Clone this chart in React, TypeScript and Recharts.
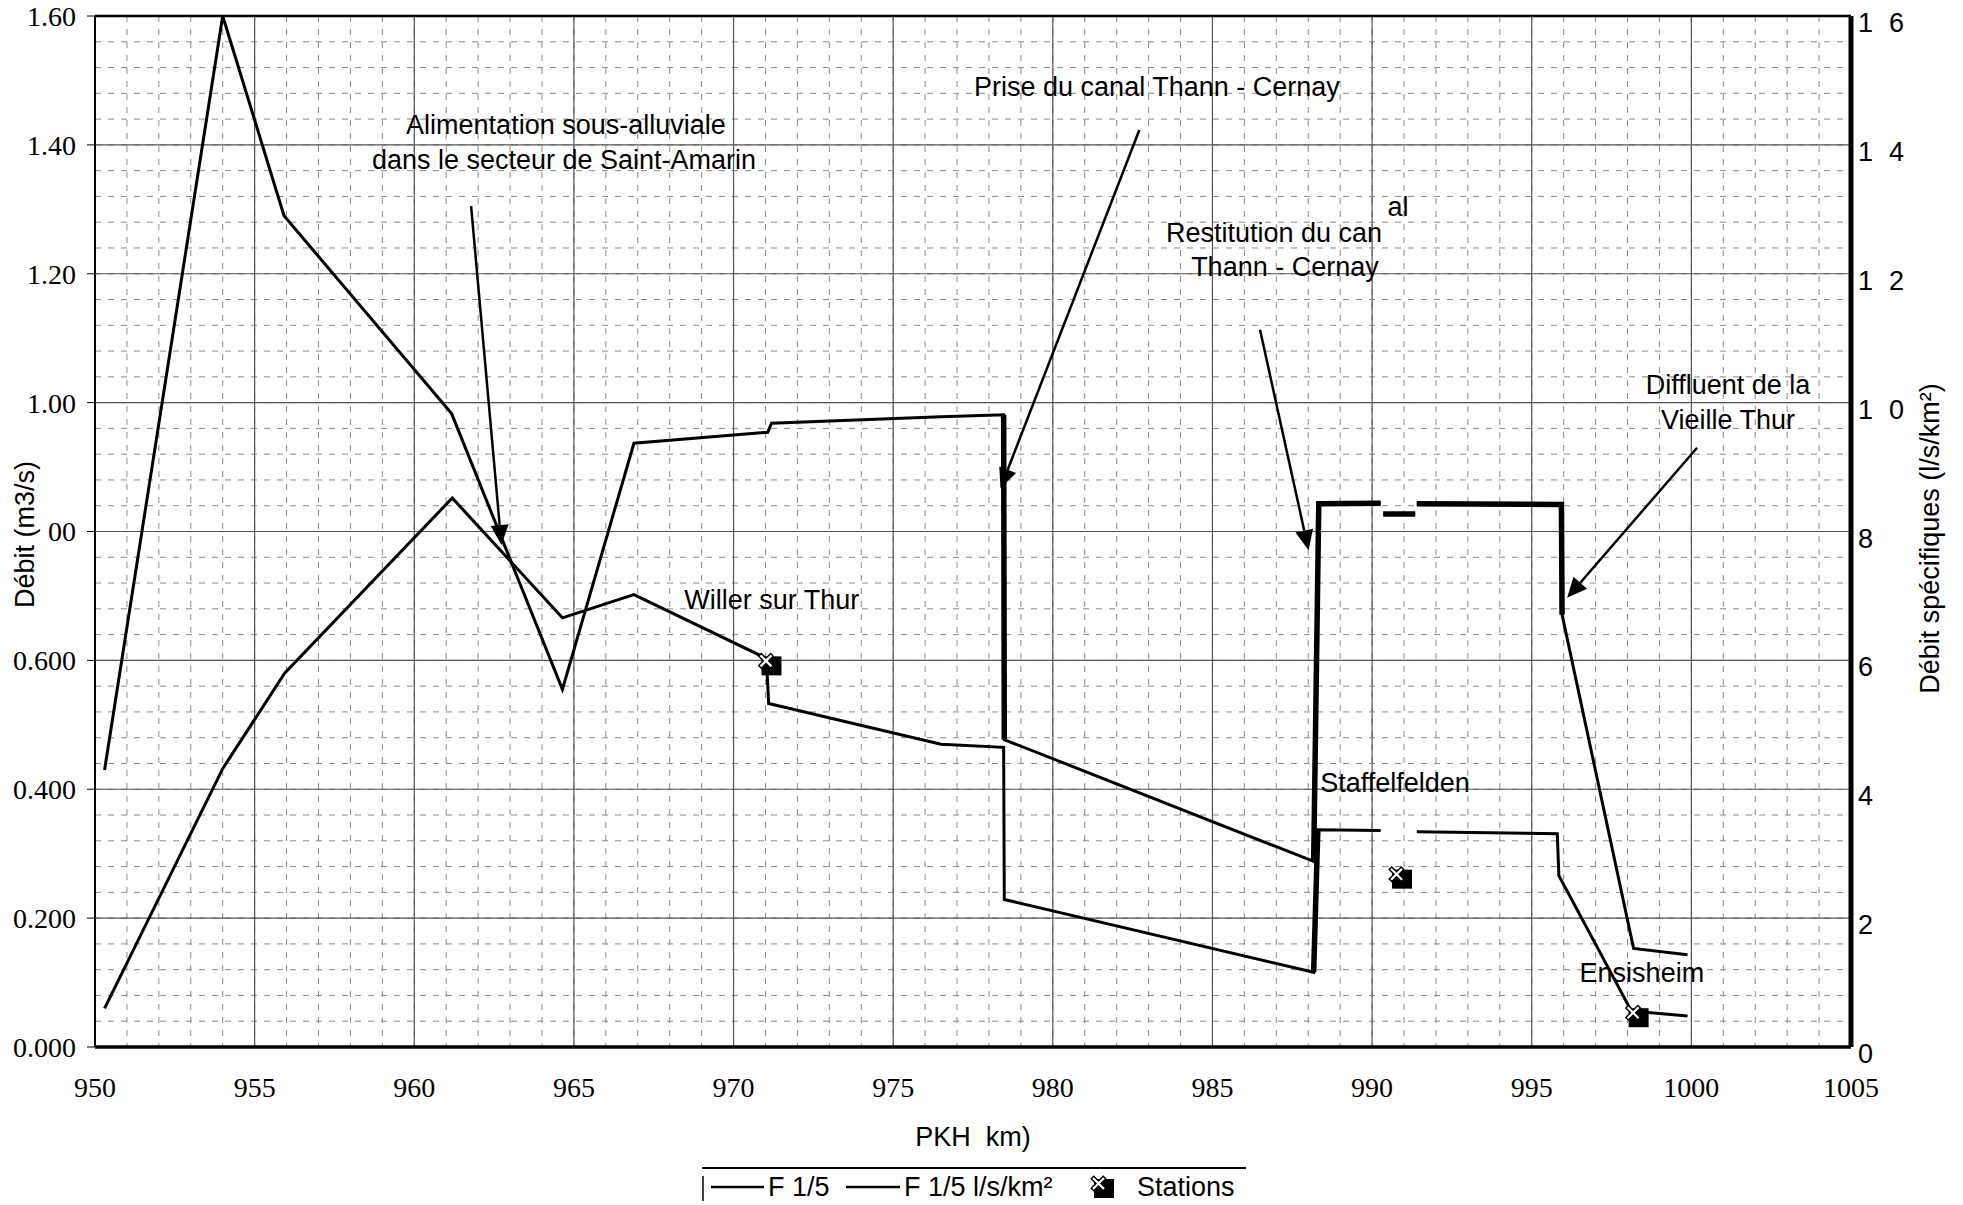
import React from "react";
import {
  ComposedChart,
  Line,
  Scatter,
  XAxis,
  YAxis,
  CartesianGrid,
  ReferenceLine,
  ReferenceDot,
} from "recharts";

const SANS = '"Liberation Sans", Arial, sans-serif';
const SERIF = '"Liberation Serif", "Times New Roman", serif';

// F 1/5 specific discharge (l/s/km²) along the river, null = break in the trace
const specKm = [
  950.3, 954.0, 955.92, 961.17, 964.64, 966.88, 971.07, 971.19, 976.5, 978.46, 978.48, 988.17, 988.33,
  990.27, 990.3, 990.35, 991.35, 991.38, 991.4, 995.93, 995.95, 998.19, 999.88,
];
const specValues = [
  4.3, 16.0, 12.9, 9.83, 5.55, 9.37, 9.54, 9.68, 9.78, 9.81, 4.77, 2.88, 8.43, 8.44, null, 8.27, 8.27, null,
  8.43, 8.42, 6.71, 1.53, 1.43,
];

// F 1/5 discharge (m3/s)
const flowKm = [
  950.3, 954.0, 955.94, 961.19, 964.64, 966.88, 971.03, 971.1, 976.5, 978.46, 978.48, 988.17, 988.3, 990.27,
  990.8, 991.4, 995.8, 995.85, 998.1, 998.3, 999.88,
];
const flowValues = [
  0.06, 0.432, 0.58, 0.852, 0.666, 0.702, 0.603, 0.533, 0.47, 0.465, 0.229, 0.116, 0.337, 0.336, null, 0.334,
  0.331, 0.266, 0.058, 0.055, 0.048,
];

// parts of the traces drawn with a heavier pen
const thickSpecRanges = [
  [978.46, 978.48],
  [988.17, 995.95],
];
const thickFlowRanges = [[988.17, 988.3]];

const stationNames = ["Willer sur Thur", "Staffelfelden", "Ensisheim"];
const stationKm = [971.0, 990.75, 998.16];
const stationFlow = [0.6, 0.269, 0.054];
const stationLabelKm = [971.2, 990.72, 998.45];
const stationLabelFlow = [0.694, 0.41, 0.115];

const kmTicks = [950, 955, 960, 965, 970, 975, 980, 985, 990, 995, 1000, 1005];
const flowTicks = [0, 0.2, 0.4, 0.6, 0.8, 1.0, 1.2, 1.4, 1.6];
const flowTickLabels = ["0.000", "0.200", "0.400", "0.600", "00", "1.00", "1.20", "1.40", "1.60"];
const specTicks = [0, 2, 4, 6, 8, 10, 12, 14, 16];
const specTickLabels = ["0", "2", "4", "6", "8", "1 0", "1 2", "1 4", "1 6"];

const minorKm = Array.from({ length: 56 }, (_, i) => 950 + i);
const minorFlow = Array.from({ length: 41 }, (_, i) => +(i * 0.04).toFixed(2));

// callouts, placed in data units (km, m3/s)
const noteText = [
  "Alimentation sous-alluviale",
  "dans le secteur de Saint-Amarin",
  "Prise du canal Thann - Cernay",
  "al",
  "Restitution du can",
  "Thann - Cernay",
  "Diffluent de la",
  "Vieille Thur",
];
const noteKm = [964.75, 964.69, 983.26, 990.81, 986.93, 987.27, 1001.15, 1001.15];
const noteFlow = [1.431, 1.376, 1.49, 1.304, 1.263, 1.21, 1.027, 0.973];

const arrowFrom = [
  [961.78, 1.305],
  [982.71, 1.423],
  [986.49, 1.113],
  [1000.18, 0.93],
];
const arrowTo = [
  [962.73, 0.779],
  [978.36, 0.867],
  [988.01, 0.771],
  [996.11, 0.697],
];

const specRows = specKm.map((km, i) => ({ km, spec: specValues[i] }));
const flowRows = flowKm.map((km, i) => ({ km, flow: flowValues[i] }));
const stationRows = stationKm.map((km, i) => ({ km, flow: stationFlow[i], name: stationNames[i] }));

function StationMark({ cx, cy }: any) {
  if (cx == null || cy == null) return null;
  const x = cx;
  const y = cy;
  return (
    <g>
      <rect x={x - 4} y={y - 4} width={20} height={19} fill="#000" />
      <path d={`M${x - 6},${y - 6} L${x + 7},${y + 7} M${x + 7},${y - 6} L${x - 6},${y + 7}`} stroke="#000" strokeWidth={5} />
      <path d={`M${x - 5},${y - 5} L${x + 6},${y + 6} M${x + 6},${y - 5} L${x - 5},${y + 6}`} stroke="#fff" strokeWidth={2.2} />
    </g>
  );
}

function Arrow({ x1, y1, x2, y2 }: any) {
  const a = Math.atan2(y2 - y1, x2 - x1);
  const len = 20;
  const half = 9;
  const bx = x2 - len * Math.cos(a);
  const by = y2 - len * Math.sin(a);
  const px = -Math.sin(a) * half;
  const py = Math.cos(a) * half;
  return (
    <g>
      <line x1={x1} y1={y1} x2={bx} y2={by} stroke="#000" strokeWidth={2.5} />
      <polygon points={`${x2},${y2} ${bx + px},${by + py} ${bx - px},${by - py}`} fill="#000" />
    </g>
  );
}

const noteShape = (text: string) => (p: any) =>
  (
    <text
      x={p.cx}
      y={p.cy}
      textAnchor="middle"
      dominantBaseline="central"
      fontFamily={SANS}
      fontSize={27}
      fill="#000"
    >
      {text}
    </text>
  );

function RightTick({ x, y, payload }: any) {
  const label = specTickLabels[specTicks.indexOf(payload.value)] ?? String(payload.value);
  const parts = label.split(" ");
  return (
    <text x={x} y={y + 7} dominantBaseline="central" fontFamily={SANS} fontSize={27} fill="#000">
      <tspan>{parts[0]}</tspan>
      {parts[1] && <tspan dx={16}>{parts[1]}</tspan>}
    </text>
  );
}

function Legend() {
  const y = 1187;
  return (
    <svg
      width={1963}
      height={1205}
      style={{ position: "absolute", left: 0, top: 0, pointerEvents: "none" }}
    >
      <line x1={702} y1={1168} x2={1246} y2={1168} stroke="#000" strokeWidth={2} />
      <line x1={703} y1={1176} x2={703} y2={1201} stroke="#000" strokeWidth={1.5} />
      <line x1={711} y1={y} x2={764} y2={y} stroke="#000" strokeWidth={2.5} />
      <text x={768} y={y} dominantBaseline="central" fontFamily={SANS} fontSize={27}>
        F 1/5
      </text>
      <line x1={846} y1={y} x2={900} y2={y} stroke="#000" strokeWidth={2.5} />
      <text x={904} y={y} dominantBaseline="central" fontFamily={SANS} fontSize={27}>
        F 1/5 l/s/km²
      </text>
      <StationMark cx={1098} cy={y - 4} />
      <text x={1137} y={y} dominantBaseline="central" fontFamily={SANS} fontSize={27}>
        Stations
      </text>
    </svg>
  );
}

export default function App() {
  return (
    <div style={{ position: "absolute", left: 0, top: 0, width: 1963, height: 1205, background: "#fff" }}>
      <ComposedChart width={1963} height={1205} margin={{ top: 16, right: 32, bottom: 48, left: 15 }}>
        <CartesianGrid
          yAxisId="flow"
          verticalValues={minorKm}
          horizontalValues={minorFlow}
          stroke="#8a8a8a"
          strokeDasharray="6 7"
          strokeWidth={1}
        />
        <CartesianGrid
          yAxisId="flow"
          verticalValues={kmTicks}
          horizontalValues={flowTicks}
          stroke="#555"
          strokeWidth={1.2}
        />
        <XAxis
          dataKey="km"
          type="number"
          domain={[950, 1005]}
          ticks={kmTicks}
          interval={0}
          allowDataOverflow
          height={110}
          tickSize={0}
          tickMargin={30}
          axisLine={{ stroke: "#000", strokeWidth: 3.5 }}
          tick={{ fontFamily: SERIF, fontSize: 28, fill: "#000" }}
          label={{
            content: ({ viewBox }: any) => (
              <text
                x={viewBox.x + viewBox.width / 2}
                y={viewBox.y + 99}
                textAnchor="middle"
                fontFamily={SANS}
                fontSize={27}
                fill="#000"
                style={{ whiteSpace: "pre" }}
              >
                {"PKH  km)"}
              </text>
            ),
          }}
        />
        <YAxis
          yAxisId="flow"
          type="number"
          domain={[0, 1.6]}
          ticks={flowTicks}
          interval={0}
          allowDataOverflow
          width={80}
          tickSize={8}
          tickMargin={11}
          axisLine={{ stroke: "#000", strokeWidth: 2 }}
          tickLine={{ stroke: "#000" }}
          tick={{ fontFamily: SERIF, fontSize: 28, fill: "#000" }}
          tickFormatter={(v: number) => flowTickLabels[flowTicks.indexOf(v)] ?? String(v)}
          label={{
            content: ({ viewBox }: any) => {
              const cx = viewBox.x + 10;
              const cy = viewBox.y + viewBox.height / 2 + 3;
              return (
                <text
                  x={cx}
                  y={cy}
                  transform={`rotate(-90, ${cx}, ${cy})`}
                  textAnchor="middle"
                  dominantBaseline="central"
                  fontFamily={SANS}
                  fontSize={27}
                  fill="#000"
                >
                  Débit (m3/s)
                </text>
              );
            },
          }}
        />
        <YAxis
          yAxisId="spec"
          orientation="right"
          type="number"
          domain={[0, 16]}
          ticks={specTicks}
          interval={0}
          allowDataOverflow
          width={80}
          tickSize={0}
          tickMargin={7}
          axisLine={{ stroke: "#000", strokeWidth: 5 }}
          tick={(p: any) => <RightTick {...p} />}
          label={{
            content: ({ viewBox }: any) => {
              const cx = viewBox.x + 79;
              const cy = viewBox.y + viewBox.height / 2 + 7;
              return (
                <text
                  x={cx}
                  y={cy}
                  transform={`rotate(-90, ${cx}, ${cy})`}
                  textAnchor="middle"
                  dominantBaseline="central"
                  fontFamily={SANS}
                  fontSize={27}
                  fill="#000"
                >
                  Débit spécifiques (l/s/km²)
                </text>
              );
            },
          }}
        />
        <ReferenceLine yAxisId="flow" y={1.6} stroke="#000" strokeWidth={2.5} />

        <Line
          data={flowRows}
          dataKey="flow"
          name="F 1/5"
          yAxisId="flow"
          stroke="#000"
          strokeWidth={3}
          dot={false}
          isAnimationActive={false}
        />
        <Line
          data={specRows}
          dataKey="spec"
          name="F 1/5 l/s/km²"
          yAxisId="spec"
          stroke="#000"
          strokeWidth={3}
          dot={false}
          isAnimationActive={false}
        />
        {thickSpecRanges.map(([a, b], i) => (
          <Line
            key={`ts${i}`}
            data={specRows.filter((r) => r.km >= a && r.km <= b)}
            dataKey="spec"
            yAxisId="spec"
            stroke="#000"
            strokeWidth={5.5}
            dot={false}
            legendType="none"
            isAnimationActive={false}
          />
        ))}
        {thickFlowRanges.map(([a, b], i) => (
          <Line
            key={`tf${i}`}
            data={flowRows.filter((r) => r.km >= a && r.km <= b)}
            dataKey="flow"
            yAxisId="flow"
            stroke="#000"
            strokeWidth={5.5}
            dot={false}
            legendType="none"
            isAnimationActive={false}
          />
        ))}
        <Scatter
          data={stationRows}
          dataKey="flow"
          name="Stations"
          yAxisId="flow"
          shape={StationMark}
          isAnimationActive={false}
        />

        {arrowFrom.map((from, i) => (
          <ReferenceLine
            key={`ar${i}`}
            yAxisId="flow"
            segment={[
              { x: from[0], y: from[1] },
              { x: arrowTo[i][0], y: arrowTo[i][1] },
            ]}
            shape={Arrow}
          />
        ))}
        {noteText.map((t, i) => (
          <ReferenceDot key={`n${i}`} yAxisId="flow" x={noteKm[i]} y={noteFlow[i]} r={1} shape={noteShape(t)} />
        ))}
        {stationNames.map((t, i) => (
          <ReferenceDot
            key={`s${i}`}
            yAxisId="flow"
            x={stationLabelKm[i]}
            y={stationLabelFlow[i]}
            r={1}
            shape={noteShape(t)}
          />
        ))}
      </ComposedChart>
      <Legend />
    </div>
  );
}
